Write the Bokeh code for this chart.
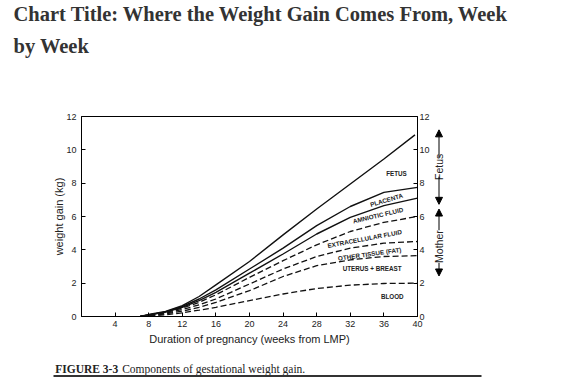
from bokeh.plotting import figure
from bokeh.layouts import column, row
from bokeh.models import LinearAxis, FixedTicker, Arrow, NormalHead, Range1d, ColumnDataSource
from bokeh.core.properties import value
from bokeh.embed import file_html
from bokeh.resources import INLINE

# ---- data ----
weeks = [7, 8, 10, 12, 14, 16, 20, 24, 28, 32, 36, 40]
fetus_weeks = [7, 8, 10, 12, 14, 16, 20, 24, 28, 32, 36, 39.7]
fetus_top = [0, 0.12, 0.3, 0.65, 1.2, 1.9, 3.3, 4.9, 6.45, 7.95, 9.45, 10.9]
placenta_top = [0, 0.1, 0.28, 0.6, 1.05, 1.6, 2.85, 4.1, 5.45, 6.6, 7.45, 7.75]
amniotic_top = [0, 0.09, 0.26, 0.55, 0.95, 1.45, 2.6, 3.75, 4.95, 5.95, 6.65, 7.1]
ecf_top = [0, 0.08, 0.24, 0.5, 0.85, 1.3, 2.35, 3.35, 4.3, 5.1, 5.65, 6.0]
fat_top = [0, 0.07, 0.2, 0.42, 0.7, 1.05, 1.95, 2.85, 3.6, 4.1, 4.4, 4.5]
uterus_top = [0, 0.05, 0.15, 0.32, 0.55, 0.85, 1.55, 2.4, 3.05, 3.4, 3.6, 3.65]
blood_top = [0, 0.03, 0.1, 0.22, 0.38, 0.55, 0.95, 1.35, 1.68, 1.88, 1.98, 2.0]

x_ticks = [4, 8, 12, 16, 20, 24, 28, 32, 36, 40]
y_ticks = [0, 2, 4, 6, 8, 10, 12]

component_names = ["FETUS", "PLACENTA", "AMNIOTIC FLUID", "EXTRACELLULAR FLUID",
                   "OTHER TISSUE (FAT)", "UTERUS + BREAST", "BLOOD"]
group_names = ["Fetus", "Mother"]

title_lines = ["Chart Title: Where the Weight Gain Comes From, Week", "by Week"]
caption_bold = "FIGURE 3-3"
caption_text = "Components of gestational weight gain."

INK = "#111111"
TXT = "#222222"


def drop_title(f):
    try:
        f.title = None
    except Exception:
        f.title.visible = False


def blank(width, height, xr, yr):
    f = figure(width=width, height=height, output_backend="svg", toolbar_location=None,
               x_range=xr, y_range=yr, x_axis_location=None, y_axis_location=None,
               min_border=0)
    drop_title(f)
    f.min_border_left = f.min_border_right = f.min_border_top = f.min_border_bottom = 0
    f.outline_line_color = None
    f.xgrid.visible = False
    f.ygrid.visible = False
    f.background_fill_color = "white"
    f.border_fill_color = "white"
    return f


# ---- title (pixel-like coordinates) ----
tfig = blank(588, 100, Range1d(0, 588), Range1d(100, 0))
tfig.text(x=[13, 13], y=[13, 45.4], text=title_lines,
          text_font=value("Liberation Serif"), text_font_style="bold",
          text_font_size="20.5px", text_color="#333333",
          text_align="left", text_baseline="middle")

# ---- main chart ----
p = figure(width=429, height=255, output_backend="svg", toolbar_location=None,
           x_range=Range1d(0, 40), y_range=Range1d(0, 12),
           min_border_left=81, min_border_right=12, min_border_top=16, min_border_bottom=39,
           frame_width=336, frame_height=200)
drop_title(p)
p.background_fill_color = "white"
p.border_fill_color = "white"
p.outline_line_color = "black"
p.outline_line_width = 1
p.xgrid.visible = False
p.ygrid.visible = False


def style_axis(ax, standoff):
    ax.major_tick_in = 4
    ax.major_tick_out = 0
    ax.minor_tick_in = 0
    ax.minor_tick_out = 0
    ax.axis_line_color = "black"
    ax.major_tick_line_color = "black"
    ax.major_label_text_font = "Liberation Sans"
    ax.major_label_text_font_size = "9px"
    ax.major_label_text_color = TXT
    ax.major_label_standoff = standoff
    ax.axis_label_text_font = "Liberation Sans"
    ax.axis_label_text_font_size = "11px"
    ax.axis_label_text_font_style = "normal"
    ax.axis_label_text_color = TXT


xa = p.xaxis[0]
xa.ticker = FixedTicker(ticks=x_ticks)
style_axis(xa, 4)
xa.axis_label = "Duration of pregnancy (weeks from LMP)"
xa.axis_label_standoff = 3

ya = p.yaxis[0]
ya.ticker = FixedTicker(ticks=y_ticks)
style_axis(ya, 5)
ya.axis_label = "weight gain (kg)"
ya.axis_label_standoff = -2

ra = LinearAxis(ticker=FixedTicker(ticks=y_ticks))
style_axis(ra, 2)
p.add_layout(ra, "right")

solid = dict(line_color=INK, line_width=1.4)
dashed = dict(line_color=INK, line_width=1.3, line_dash="6 3")
p.line(fetus_weeks, fetus_top, **solid)
p.line(weeks, placenta_top, **solid)
p.line(weeks, amniotic_top, **solid)
p.line(weeks, ecf_top, **dashed)
p.line(weeks, fat_top, **dashed)
p.line(weeks, uterus_top, **dashed)
p.line(weeks, blood_top, **dashed)

lab_src = ColumnDataSource(dict(
    x=[37.5, 36.3, 35.3, 33.7, 34.3, 34.6, 37.0],
    y=[8.58, 7.0, 6.08, 4.68, 3.76, 2.86, 1.22],
    text=component_names,
    angle=[0, 0.29, 0.235, 0.185, 0.14, 0, 0],
))
p.text(x="x", y="y", text="text", angle="angle", source=lab_src,
       text_font=value("Liberation Sans"), text_font_style="bold",
       text_font_size="6.3px", text_color=TXT,
       text_align="center", text_baseline="middle")

# ---- right bracket (same kg scale as main chart) ----
bfig = blank(159, 255, Range1d(429, 588), Range1d(-2.34, 12.96))
bx = 435.5
for ys, ye in [(9.86, 11.94), (8.36, 6.24), (4.26, 5.88), (1.76, 0.76)]:
    bfig.add_layout(Arrow(start=None, end=NormalHead(size=7, fill_color="black", line_color="black"),
                          x_start=bx, y_start=ys, x_end=bx, y_end=ye,
                          line_color="black", line_width=1))
bfig.text(x=[bx, bx], y=[9.11, 3.01], text=group_names, angle=[1.5708, 1.5708],
          text_font=value("Liberation Sans"), text_font_size="10.5px", text_color=TXT,
          text_align="center", text_baseline="middle")

# ---- caption + rule ----
cfig = blank(588, 30, Range1d(0, 588), Range1d(385, 355))
cfig.text(x=[54.7], y=[368.3], text=[caption_bold], text_font=value("Liberation Serif"),
          text_font_style="bold", text_font_size="11.5px", text_color=TXT,
          text_align="left", text_baseline="middle")
cfig.text(x=[121.7], y=[368.3], text=[caption_text], text_font=value("Liberation Serif"),
          text_font_size="11.5px", text_color=TXT,
          text_align="left", text_baseline="middle")
cfig.line(x=[53, 481], y=[375.6], line_color="#333333", line_width=2) if False else \
    cfig.line(x=[53, 481], y=[375.6, 375.6], line_color="#333333", line_width=2)

layout = column(tfig, row(p, bfig), cfig)
open("out.html", "w").write(file_html(layout, INLINE))
